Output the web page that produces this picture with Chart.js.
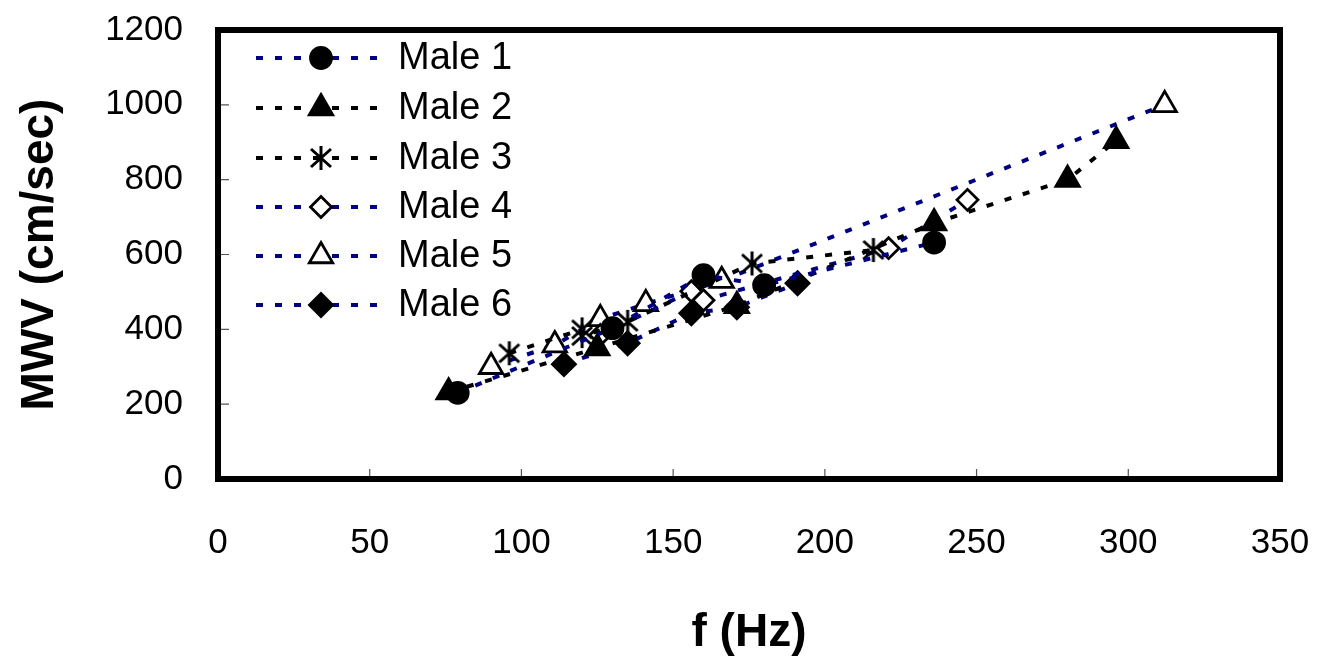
<!DOCTYPE html>
<html>
<head>
<meta charset="utf-8">
<script src="https://cdn.jsdelivr.net/npm/chart.js@4.4.0/dist/chart.umd.min.js"></script>
<style>
  html, body { margin: 0; padding: 0; background: #ffffff; }
  #wrap { width: 1330px; height: 662px; }
</style>
</head>
<body>
<div id="wrap"><canvas id="grafico" width="1330" height="662"></canvas></div>
<script>
// values: f (Hz) and MWV (cm/sec) per speaker
const male1X = [79, 130, 160, 180, 236];
const male1Y = [230, 403, 545, 518, 632];
const male2X = [76, 125, 171, 236, 280, 296];
const male2Y = [232, 350, 463, 684, 800, 904];
const male3X = [96, 120, 120, 135, 176, 216];
const male3Y = [336, 400, 382, 420, 576, 612];
const male4X = [126, 156, 160, 221, 247];
const male4Y = [385, 502, 478, 617, 746];
const male5X = [90, 111, 126, 141, 166, 312];
const male5Y = [300, 358, 428, 468, 530, 1000];
const male6X = [114, 135, 156, 171, 191];
const male6Y = [307, 363, 443, 459, 523];

const nomes = ['Male 1', 'Male 2', 'Male 3', 'Male 4', 'Male 5', 'Male 6'];
const xTicks = [0, 50, 100, 150, 200, 250, 300, 350];
const yTicks = [0, 200, 400, 600, 800, 1000, 1200];

const fonte = '"Liberation Sans", Arial, sans-serif';
const azul = '#000080';
const preto = '#000000';

// asterisco de 6 bracos, como no grafico original
function makeAsterisk() {
  const c = document.createElement('canvas');
  c.width = 26; c.height = 26;
  const g = c.getContext('2d');
  g.strokeStyle = '#000';
  g.lineWidth = 3;
  g.beginPath();
  g.moveTo(13, 1); g.lineTo(13, 25);
  g.moveTo(3, 4); g.lineTo(23, 22);
  g.moveTo(23, 4); g.lineTo(3, 22);
  g.stroke();
  return c;
}
const asterisco = makeAsterisk();

function pontos(xs, ys) {
  return xs.map((x, i) => ({ x: x, y: ys[i] }));
}

function serie(nome, xs, ys, cor, estilo, preenchido, raio) {
  return {
    label: nome,
    data: pontos(xs, ys),
    showLine: true,
    borderColor: cor,
    borderWidth: 4,
    borderDash: [7, 12],
    tension: 0,
    pointStyle: estilo,
    pointRadius: raio,
    pointHoverRadius: raio,
    pointBackgroundColor: preenchido ? '#000' : '#fff',
    pointBorderColor: '#000',
    pointBorderWidth: 2.8
  };
}

const datasets = [
  serie(nomes[0], male1X, male1Y, azul, 'circle', true, 10.5),
  serie(nomes[1], male2X, male2Y, preto, 'triangle', true, 13.5),
  serie(nomes[2], male3X, male3Y, preto, asterisco, true, 12),
  serie(nomes[3], male4X, male4Y, azul, 'rectRot', false, 10.5),
  serie(nomes[4], male5X, male5Y, azul, 'triangle', false, 13.5),
  serie(nomes[5], male6X, male6Y, azul, 'rectRot', true, 11.5)
];

// moldura grossa e marcas de escala para dentro
const moldura = {
  id: 'moldura',
  afterDatasetsDraw(chart) {
    const { ctx, chartArea: a, scales } = chart;
    ctx.save();
    ctx.strokeStyle = '#555';
    ctx.lineWidth = 1.2;
    ctx.beginPath();
    xTicks.forEach(v => {
      const px = scales.x.getPixelForValue(v);
      ctx.moveTo(px, a.bottom);
      ctx.lineTo(px, a.bottom - 10);
    });
    yTicks.forEach(v => {
      const py = scales.y.getPixelForValue(v);
      ctx.moveTo(a.left, py);
      ctx.lineTo(a.left + 11, py);
    });
    ctx.stroke();
    ctx.strokeStyle = '#000';
    ctx.lineWidth = 6;
    ctx.strokeRect(a.left, a.top, a.right - a.left, a.bottom - a.top);
    ctx.restore();
  }
};

// legenda desenhada dentro da area do grafico
const legenda = {
  id: 'legenda',
  afterDraw(chart) {
    const ctx = chart.ctx;
    const linhas = [58, 108, 158, 207, 256, 305];
    ctx.save();
    chart.data.datasets.forEach((ds, i) => {
      const y = linhas[i];
      ctx.strokeStyle = ds.borderColor;
      ctx.lineWidth = ds.borderWidth;
      ctx.setLineDash(ds.borderDash);
      ctx.beginPath();
      ctx.moveTo(256, y);
      ctx.lineTo(383, y);
      ctx.stroke();
      ctx.setLineDash([]);
      ctx.fillStyle = ds.pointBackgroundColor;
      ctx.strokeStyle = ds.pointBorderColor;
      ctx.lineWidth = ds.pointBorderWidth;
      Chart.helpers.drawPoint(ctx, {
        pointStyle: ds.pointStyle,
        radius: ds.pointRadius,
        rotation: 0,
        borderWidth: ds.pointBorderWidth
      }, 321, y);
      ctx.fillStyle = '#000';
      ctx.font = '38px ' + fonte;
      ctx.textAlign = 'left';
      ctx.textBaseline = 'middle';
      ctx.fillText(ds.label, 398, y + 1);
    });
    ctx.restore();
  }
};

const ctx = document.getElementById('grafico').getContext('2d');
new Chart(ctx, {
  type: 'scatter',
  data: { datasets: datasets },
  plugins: [moldura, legenda],
  options: {
    responsive: false,
    animation: false,
    events: [],
    layout: { padding: { left: 0, top: 30, right: 50, bottom: 0 } },
    plugins: {
      legend: { display: false },
      tooltip: { enabled: false }
    },
    scales: {
      x: {
        type: 'linear',
        min: 0,
        max: 350,
        afterBuildTicks(scale) { scale.ticks = xTicks.map(v => ({ value: v })); },
        afterFit(scale) {
          scale.height = 662 - 479;
          scale.paddingLeft = 0;
          scale.paddingRight = 0;
        },
        grid: { display: false, drawTicks: false },
        border: { display: false },
        ticks: {
          color: '#000',
          padding: 43,
          callback: v => String(v),
          font: { family: fonte, size: 35 }
        },
        title: {
          display: true,
          text: 'f (Hz)',
          color: '#000',
          padding: { top: 0, bottom: 1 },
          font: { family: fonte, size: 46, weight: 'bold' }
        }
      },
      y: {
        type: 'linear',
        min: 0,
        max: 1200,
        afterBuildTicks(scale) { scale.ticks = yTicks.map(v => ({ value: v })); },
        afterFit(scale) {
          scale.width = 218;
          scale.paddingTop = 0;
          scale.paddingBottom = 0;
        },
        grid: { display: false, drawTicks: false },
        border: { display: false },
        ticks: {
          color: '#000',
          padding: 35,
          callback: v => String(v),
          font: { family: fonte, size: 35 }
        },
        title: {
          display: true,
          text: 'MWV (cm/sec)',
          color: '#000',
          padding: { top: 13, bottom: 0 },
          font: { family: fonte, size: 46, weight: 'bold' }
        }
      }
    }
  }
});
</script>
</body>
</html>
